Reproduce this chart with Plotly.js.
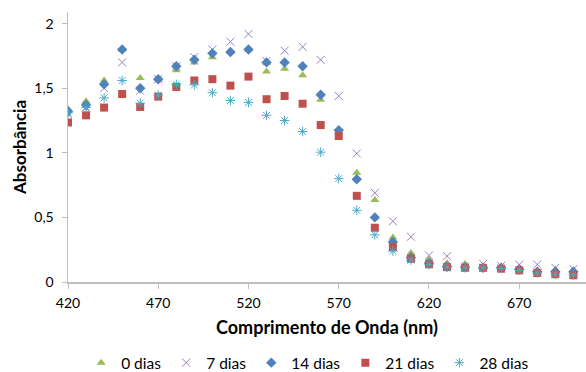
<!DOCTYPE html>
<html>
<head>
<meta charset="utf-8">
<script src="https://cdn.plot.ly/plotly-3.0.1.min.js"></script>
<style>html,body{margin:0;padding:0;background:#fff;}#chart{width:586px;height:372px;}</style>
</head>
<body>
<div id="chart"></div>
<script>
const wavelength = [420,430,440,450,460,470,480,490,500,510,520,530,540,550,560,570,580,590,600,610,620,630,640,650,660,670,680,690,700];
const dias0  = [1.34,1.40,1.56,1.80,1.58,1.57,1.64,1.70,1.74,1.78,1.80,1.63,1.65,1.60,1.41,1.16,0.845,0.635,0.345,0.225,0.175,0.145,0.14,0.12,0.11,0.10,0.085,0.095,0.09];
const dias7  = [1.30,1.35,1.50,1.70,1.48,1.57,1.67,1.74,1.80,1.86,1.92,1.71,1.79,1.82,1.72,1.44,0.995,0.69,0.47,0.35,0.205,0.20,0.12,0.14,0.125,0.135,0.135,0.11,0.10];
const dias14 = [1.32,1.37,1.53,1.80,1.50,1.57,1.67,1.72,1.77,1.78,1.80,1.70,1.70,1.67,1.45,1.175,0.795,0.50,0.31,0.19,0.145,0.12,0.115,0.11,0.11,0.10,0.08,0.08,0.08];
const dias21 = [1.235,1.29,1.35,1.455,1.355,1.435,1.51,1.56,1.57,1.52,1.59,1.415,1.44,1.38,1.215,1.13,0.667,0.42,0.27,0.18,0.137,0.115,0.11,0.11,0.103,0.09,0.07,0.06,0.052];
const dias28 = [1.31,1.35,1.425,1.56,1.385,1.445,1.53,1.525,1.465,1.405,1.39,1.29,1.25,1.165,1.005,0.80,0.555,0.365,0.24,0.17,0.135,0.115,0.11,0.11,0.105,0.09,0.07,0.06,0.055];
const seriesNames = ["0 dias","7 dias","14 dias","21 dias","28 dias"];

const traces = [
  {x: wavelength, y: dias0, name: seriesNames[0], mode: "markers", type: "scatter",
   marker: {symbol: "triangle-up", size: 8, color: "#9BBB59"}},
  {x: wavelength, y: dias7, name: seriesNames[1], mode: "markers", type: "scatter",
   marker: {symbol: "x-thin-open", size: 8, color: "#9A7FC0", line: {width: 1, color: "#9A7FC0"}}},
  {x: wavelength, y: dias14, name: seriesNames[2], mode: "markers", type: "scatter",
   marker: {symbol: "diamond", size: 8, color: "#4F81BD"}},
  {x: wavelength, y: dias21, name: seriesNames[3], mode: "markers", type: "scatter",
   marker: {symbol: "square", size: 8, color: "#C0504D"}},
  {x: wavelength, y: dias28, name: seriesNames[4], mode: "markers", type: "scatter",
   marker: {symbol: "asterisk-open", size: 8, color: "#4BACC6", line: {width: 1, color: "#4BACC6"}}}
];

const font = "Lato, 'Open Sans', sans-serif";
const layout = {
  width: 586, height: 372,
  margin: {l: 68, r: 0, t: 12, b: 90, autoexpand: false},
  paper_bgcolor: "#fff", plot_bgcolor: "#fff",
  separators: ",.",
  font: {family: font, size: 14, color: "#000"},
  showlegend: true,
  legend: {orientation: "h", x: 0.525, xref: "container", xanchor: "center",
           y: 0.024, yref: "container", yanchor: "middle",
           font: {family: font, size: 15.5, color: "#000"}, itemwidth: 30, tracegroupgap: 0},
  xaxis: {range: [420, 707], tickvals: [420,470,520,570,620,670], showgrid: false, zeroline: false,
          showline: true, linecolor: "#BFBFBF", linewidth: 1.5, ticks: "outside", ticklen: 5, tickcolor: "#BFBFBF",
          tickfont: {family: font, size: 14}, ticklabelstandoff: 3,
          title: {text: "<b>Comprimento de Onda (nm)</b>", font: {family: font, size: 18}, standoff: 11}},
  yaxis: {range: [0, 2.09], tickvals: [0,0.5,1,1.5,2], showgrid: false, zeroline: false,
          showline: true, linecolor: "#BFBFBF", linewidth: 1.5, ticks: "outside", ticklen: 5, tickcolor: "#BFBFBF",
          tickfont: {family: font, size: 14}, ticklabelstandoff: 5,
          title: {text: "<b>Absorbância</b>", font: {family: font, size: 17}, standoff: 3}}
};
Plotly.newPlot("chart", traces, layout, {displayModeBar: false, staticPlot: true});
</script>
</body>
</html>
